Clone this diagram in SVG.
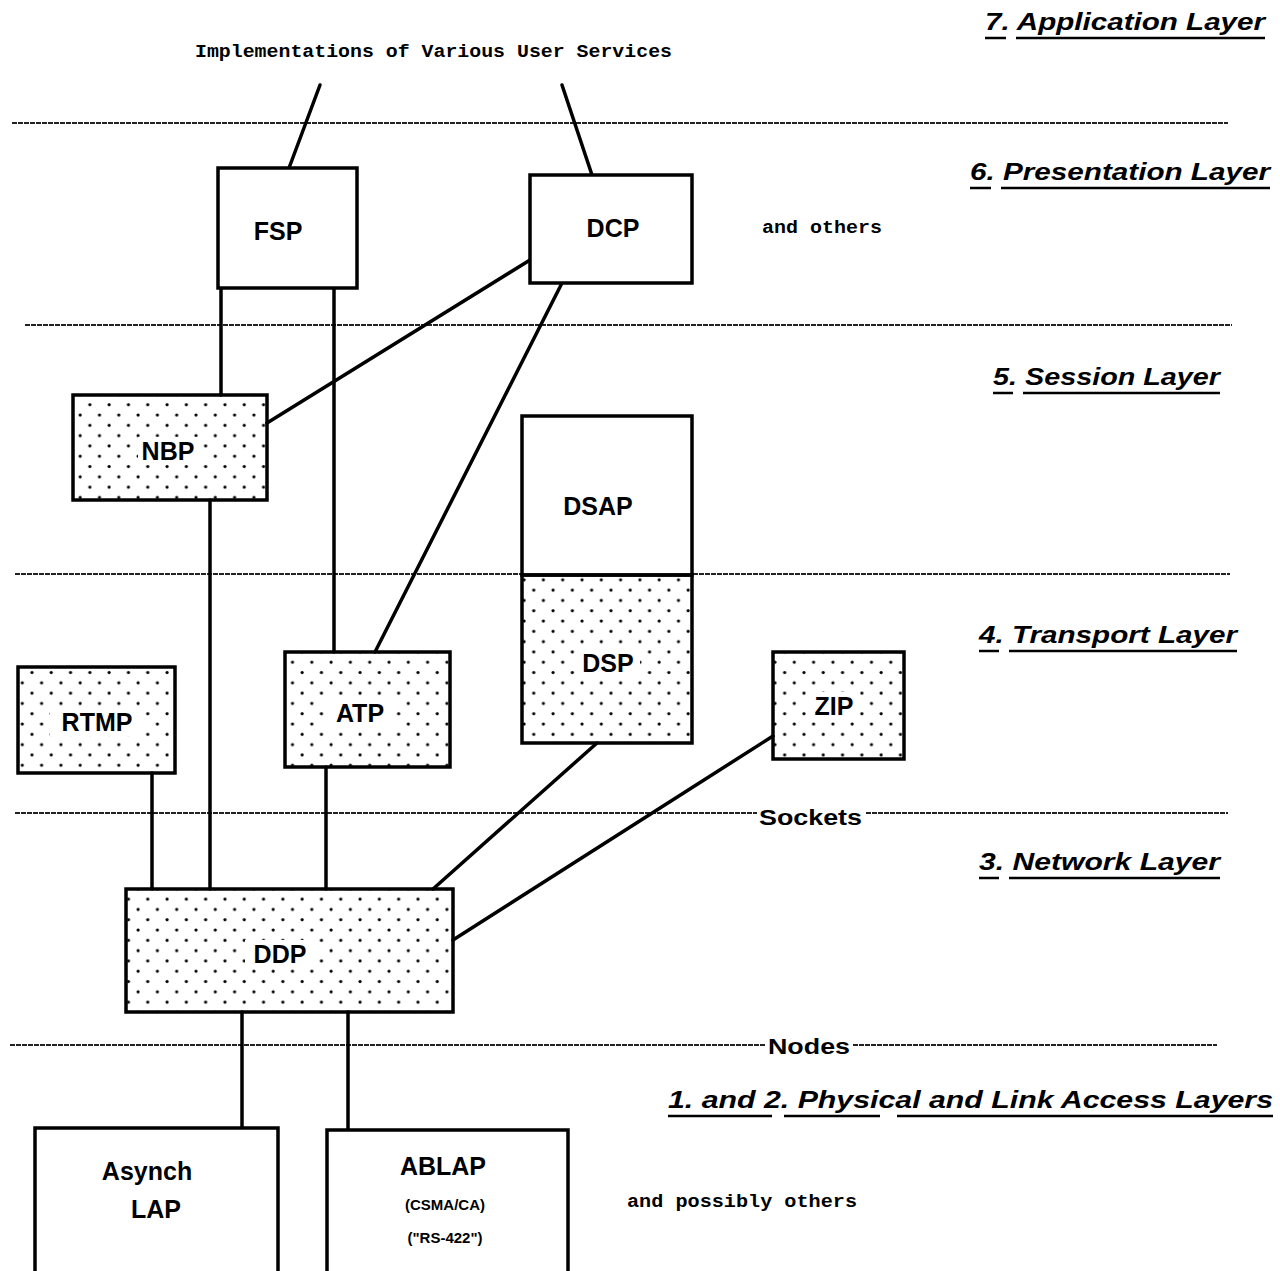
<svg xmlns="http://www.w3.org/2000/svg" width="1280" height="1271" viewBox="0 0 1280 1271">
<style>
.layer{stroke:#222;stroke-width:2;stroke-dasharray:5 1;fill:none}
.box{fill:#fff;stroke:#000;stroke-width:3.5}
.dot{fill:url(#dots);stroke:#000;stroke-width:3.5}
.con{stroke:#000;stroke-width:3.5;fill:none;stroke-linecap:round}
.lbl{font-family:"Liberation Sans",Arial,sans-serif;font-weight:bold;font-size:25px;text-anchor:middle;fill:#000}
.sub{font-family:"Liberation Sans",Arial,sans-serif;font-weight:bold;font-size:15px;text-anchor:middle;fill:#000}
.mono{font-family:"Liberation Mono","Courier New",monospace;font-weight:bold;font-size:18px;fill:#000}
.lay{font-family:"Liberation Sans",Arial,sans-serif;font-weight:bold;font-style:italic;font-size:24px;fill:#000}
.ul{stroke:#000;stroke-width:2.5}
.sk{font-family:"Liberation Sans",Arial,sans-serif;font-weight:bold;font-size:22px;fill:#000}
</style>
<defs>
<pattern id="dots" patternUnits="userSpaceOnUse" width="19.3" height="20.6">
<circle cx="3" cy="3" r="1.6" fill="#000"/>
<circle cx="12.65" cy="13.3" r="1.6" fill="#000"/>
</pattern>
</defs>
<rect width="1280" height="1271" fill="#fff"/>

<g id="layer-lines">
<line class="layer" x1="12" y1="123" x2="1228" y2="123"/>
<line class="layer" x1="25" y1="325" x2="1232" y2="325"/>
<line class="layer" x1="15" y1="574" x2="1230" y2="574"/>
<line class="layer" x1="15" y1="813" x2="757" y2="813"/>
<line class="layer" x1="866" y1="813" x2="1228" y2="813"/>
<line class="layer" x1="10" y1="1045" x2="765" y2="1045"/>
<line class="layer" x1="853" y1="1045" x2="1217" y2="1045"/>
<text class="sk" x="759" y="825" textLength="103" lengthAdjust="spacingAndGlyphs">Sockets</text>
<text class="sk" x="768" y="1054" textLength="82" lengthAdjust="spacingAndGlyphs">Nodes</text>
</g>

<g id="layer-labels">
<text class="lay" x="985" y="30" textLength="280" lengthAdjust="spacingAndGlyphs">7. Application Layer</text>
<line class="ul" x1="985" y1="38" x2="1006" y2="38"/><line class="ul" x1="1016" y1="38" x2="1265" y2="38"/>
<text class="lay" x="970" y="180" textLength="300" lengthAdjust="spacingAndGlyphs">6. Presentation Layer</text>
<line class="ul" x1="970" y1="188" x2="991" y2="188"/><line class="ul" x1="1001" y1="188" x2="1270" y2="188"/>
<text class="lay" x="993" y="385" textLength="227" lengthAdjust="spacingAndGlyphs">5. Session Layer</text>
<line class="ul" x1="993" y1="393" x2="1013" y2="393"/><line class="ul" x1="1023" y1="393" x2="1220" y2="393"/>
<text class="lay" x="979" y="643" textLength="258" lengthAdjust="spacingAndGlyphs">4. Transport Layer</text>
<line class="ul" x1="979" y1="651" x2="999" y2="651"/><line class="ul" x1="1009" y1="651" x2="1237" y2="651"/>
<text class="lay" x="979" y="870" textLength="241" lengthAdjust="spacingAndGlyphs">3. Network Layer</text>
<line class="ul" x1="979" y1="878" x2="999" y2="878"/><line class="ul" x1="1009" y1="878" x2="1220" y2="878"/>
<text class="lay" x="668" y="1108" textLength="605" lengthAdjust="spacingAndGlyphs">1. and 2. Physical  and Link Access Layers</text>
<line class="ul" x1="668" y1="1116" x2="772" y2="1116"/><line class="ul" x1="784" y1="1116" x2="880" y2="1116"/><line class="ul" x1="897" y1="1116" x2="1273" y2="1116"/>
</g>

<g id="notes">
<text class="mono" x="195" y="57" textLength="477" lengthAdjust="spacingAndGlyphs">Implementations of Various User Services</text>
<text class="mono" x="762" y="233" textLength="120" lengthAdjust="spacingAndGlyphs">and others</text>
<text class="mono" x="627" y="1207" textLength="230" lengthAdjust="spacingAndGlyphs">and possibly others</text>
</g>

<g id="connectors">
<line class="con" x1="320" y1="85" x2="289" y2="168"/>
<line class="con" x1="562" y1="85" x2="592" y2="175"/>
<line class="con" x1="221" y1="288" x2="221" y2="395"/>
<line class="con" x1="334" y1="288" x2="334" y2="652"/>
<line class="con" x1="530" y1="260" x2="267" y2="423"/>
<line class="con" x1="562" y1="283" x2="375" y2="652"/>
<line class="con" x1="210" y1="500" x2="210" y2="889"/>
<line class="con" x1="152" y1="773" x2="152" y2="889"/>
<line class="con" x1="326" y1="767" x2="326" y2="889"/>
<line class="con" x1="597" y1="743" x2="433" y2="889"/>
<line class="con" x1="773" y1="736" x2="453" y2="940"/>
<line class="con" x1="242" y1="1012" x2="242" y2="1130"/>
<line class="con" x1="348" y1="1012" x2="348" y2="1130"/>
</g>

<g id="FSP">
<rect class="box" x="218" y="168" width="139" height="120"/>
<text class="lbl" x="278" y="240">FSP</text>
</g>
<g id="DCP">
<rect class="box" x="530" y="175" width="162" height="108"/>
<text class="lbl" x="613" y="237">DCP</text>
</g>
<g id="NBP">
<rect class="dot" x="73" y="395" width="194" height="105"/>
<rect x="138" y="437" width="62" height="28" fill="#fff"/>
<text class="lbl" x="168" y="460">NBP</text>
</g>
<g id="DSAP">
<rect class="box" x="522" y="416" width="170" height="159"/>
<text class="lbl" x="598" y="515">DSAP</text>
</g>
<g id="DSP">
<rect class="dot" x="522" y="575" width="170" height="168"/>
<rect x="578" y="650" width="62" height="28" fill="#fff"/>
<text class="lbl" x="608" y="672">DSP</text>
</g>
<g id="RTMP">
<rect class="dot" x="18" y="667" width="157" height="106"/>
<rect x="50" y="708" width="94" height="28" fill="#fff"/>
<text class="lbl" x="97" y="731">RTMP</text>
</g>
<g id="ATP">
<rect class="dot" x="285" y="652" width="165" height="115"/>
<rect x="328" y="699" width="64" height="28" fill="#fff"/>
<text class="lbl" x="360" y="722">ATP</text>
</g>
<g id="ZIP">
<rect class="dot" x="773" y="652" width="131" height="107"/>
<rect x="808" y="692" width="52" height="28" fill="#fff"/>
<text class="lbl" x="834" y="715">ZIP</text>
</g>
<g id="DDP">
<rect class="dot" x="126" y="889" width="327" height="123"/>
<rect x="245" y="940" width="72" height="28" fill="#fff"/>
<text class="lbl" x="280" y="963">DDP</text>
</g>
<g id="AsynchLAP">
<rect class="box" x="35" y="1128" width="243" height="160"/>
<text class="lbl" x="147" y="1180">Asynch</text>
<text class="lbl" x="156" y="1218">LAP</text>
</g>
<g id="ABLAP">
<rect class="box" x="327" y="1130" width="241" height="160"/>
<text class="lbl" x="443" y="1175">ABLAP</text>
<text class="sub" x="445" y="1210">(CSMA/CA)</text>
<text class="sub" x="445" y="1243">("RS-422")</text>
</g>
</svg>
